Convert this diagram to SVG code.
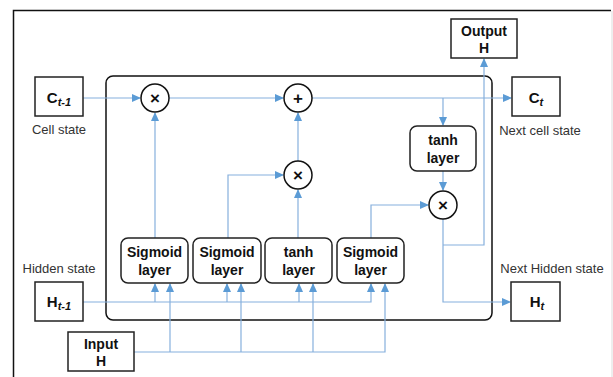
<svg xmlns="http://www.w3.org/2000/svg" width="613" height="377" viewBox="0 0 613 377">
<style>
.box{fill:#fff;stroke:#222;stroke-width:1.5}
.layer{fill:#fff;stroke:#222;stroke-width:1.5}
.op{fill:#fff;stroke:#111;stroke-width:1.5}
.lbl{font-family:"Liberation Sans",Arial,sans-serif;font-weight:bold;font-size:14px;fill:#111;text-anchor:middle}
.big{font-size:15px}
.sub{font-size:11px;font-style:italic}
.cap{font-family:"Liberation Sans",Arial,sans-serif;font-size:13px;fill:#333;text-anchor:middle}
.sym{font-family:"Liberation Sans",Arial,sans-serif;font-weight:bold;font-size:17px;fill:#111;text-anchor:middle}
.c{fill:none;stroke:#86B0DD;stroke-width:1.2}
.a{marker-end:url(#ah)}
</style>
<defs>
<marker id="ah" markerUnits="userSpaceOnUse" markerWidth="9" markerHeight="8" refX="8" refY="4" orient="auto">
<path d="M0,0 L9,4 L0,8 z" fill="#5B9BD5"/>
</marker>
</defs>
<rect width="613" height="377" fill="#fff"/>
<path d="M13.5,377 V10.5 H611" fill="none" stroke="#111" stroke-width="1.5"/>
<path d="M612,11 V377" fill="none" stroke="#ddd" stroke-width="1"/>
<rect id="cell" x="106" y="76" width="386" height="244" rx="7" fill="#fff" stroke="#111" stroke-width="1.5"/>

<g id="connectors">
<path class="c a" d="M83,98 H140"/>
<path class="c a" d="M169,98 H283"/>
<path class="c a" d="M312,98 H511"/>
<path class="c a" d="M443,98 V125"/>
<path class="c a" d="M443,171 V190"/>
<path class="c a" d="M155,238 V113"/>
<path class="c a" d="M228,238 V175 H283"/>
<path class="c a" d="M298,238 V190"/>
<path class="c a" d="M298,161 V113"/>
<path class="c a" d="M371,238 V205 H428"/>
<path class="c a" d="M443,219 V302 H510"/>
<path class="c a" d="M443,245 H484 V59"/>
<path class="c a" d="M83,302 H371 V284"/>
<path class="c a" d="M155,302 V284"/>
<path class="c a" d="M227,302 V284"/>
<path class="c a" d="M299,302 V284"/>
<path class="c a" d="M134,352 H385 V284"/>
<path class="c a" d="M170,352 V284"/>
<path class="c a" d="M241,352 V284"/>
<path class="c a" d="M313,352 V284"/>
</g>

<g id="c_prev">
<rect class="box" x="35" y="77" width="48" height="39"/>
<text class="lbl big" x="59" y="103">C<tspan class="sub" dy="3">t-1</tspan></text>
<text class="cap" x="59" y="134">Cell state</text>
</g>
<g id="c_next">
<rect class="box" x="512" y="77" width="48" height="39"/>
<text class="lbl big" x="536" y="103">C<tspan class="sub" dy="3">t</tspan></text>
<text class="cap" x="540" y="135">Next cell state</text>
</g>
<g id="h_prev">
<rect class="box" x="35" y="282" width="48" height="39"/>
<text class="lbl big" x="59" y="307">H<tspan class="sub" dy="3">t-1</tspan></text>
<text class="cap" x="59" y="273">Hidden state</text>
</g>
<g id="h_next">
<rect class="box" x="511" y="282" width="49" height="39"/>
<text class="lbl big" x="537" y="307">H<tspan class="sub" dy="3">t</tspan></text>
<text class="cap" x="552" y="273">Next Hidden state</text>
</g>
<g id="output_h">
<rect class="box" x="451" y="19" width="66" height="39"/>
<text class="lbl" x="484" y="36">Output</text>
<text class="lbl" x="484" y="53">H</text>
</g>
<g id="input_h">
<rect class="box" x="68" y="332" width="66" height="39"/>
<text class="lbl" x="101" y="349">Input</text>
<text class="lbl" x="101" y="366">H</text>
</g>

<g id="sigmoid1">
<rect class="layer" x="121" y="238" width="67" height="45" rx="7"/>
<text class="lbl" x="154.5" y="257">Sigmoid</text>
<text class="lbl" x="154.5" y="275">layer</text>
</g>
<g id="sigmoid2">
<rect class="layer" x="193" y="238" width="68" height="45" rx="7"/>
<text class="lbl" x="227" y="257">Sigmoid</text>
<text class="lbl" x="227" y="275">layer</text>
</g>
<g id="tanh1">
<rect class="layer" x="265" y="238" width="67" height="45" rx="7"/>
<text class="lbl" x="298.5" y="257">tanh</text>
<text class="lbl" x="298.5" y="275">layer</text>
</g>
<g id="sigmoid3">
<rect class="layer" x="337" y="238" width="67" height="45" rx="7"/>
<text class="lbl" x="370.5" y="257">Sigmoid</text>
<text class="lbl" x="370.5" y="275">layer</text>
</g>
<g id="tanh2">
<rect class="layer" x="410" y="126" width="66" height="45" rx="7"/>
<text class="lbl" x="443" y="145">tanh</text>
<text class="lbl" x="443" y="163">layer</text>
</g>

<g id="mul1">
<circle class="op" cx="155" cy="98" r="14"/>
<text class="sym" x="155" y="104">×</text>
</g>
<g id="add">
<circle class="op" cx="298" cy="98" r="14"/>
<text class="sym" x="298" y="104">+</text>
</g>
<g id="mul2">
<circle class="op" cx="298" cy="175" r="14"/>
<text class="sym" x="298" y="181">×</text>
</g>
<g id="mul3">
<circle class="op" cx="443" cy="205" r="14"/>
<text class="sym" x="443" y="211">×</text>
</g>
</svg>
